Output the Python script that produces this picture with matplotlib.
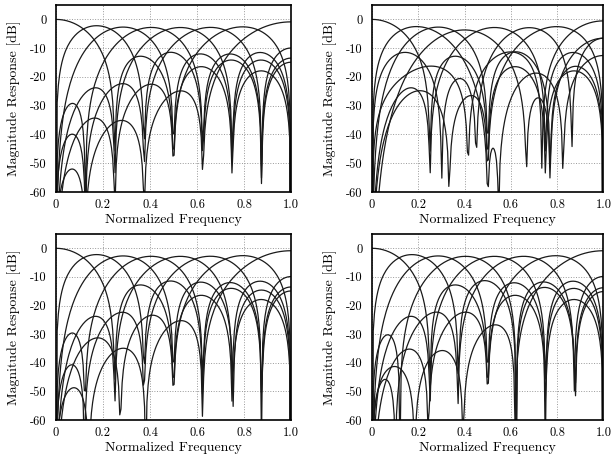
import numpy as np
import matplotlib.pyplot as plt

plt.rcParams['font.family'] = 'serif'
plt.rcParams['font.serif'] = ['cmr10']
plt.rcParams['axes.unicode_minus'] = False

# 8-point DCT-II (orthonormal rows)
dct8 = np.array([
    [0.3536, 0.3536, 0.3536, 0.3536, 0.3536, 0.3536, 0.3536, 0.3536],
    [0.4904, 0.4157, 0.2778, 0.0975, -0.0975, -0.2778, -0.4157, -0.4904],
    [0.4619, 0.1913, -0.1913, -0.4619, -0.4619, -0.1913, 0.1913, 0.4619],
    [0.4157, -0.0975, -0.4904, -0.2778, 0.2778, 0.4904, 0.0975, -0.4157],
    [0.3536, -0.3536, -0.3536, 0.3536, 0.3536, -0.3536, -0.3536, 0.3536],
    [0.2778, -0.4904, 0.0975, 0.4157, -0.4157, -0.0975, 0.4904, -0.2778],
    [0.1913, -0.4619, 0.4619, -0.1913, -0.1913, 0.4619, -0.4619, 0.1913],
    [0.0975, -0.2778, 0.4157, -0.4904, 0.4904, -0.4157, 0.2778, -0.0975],
])

# coarse approximation (top right)
approx_a = np.array([
    [1, 1, 1, 1, 1, 1, 1, 1],
    [2, 2, 3, 1, -1, -3, -2, -2],
    [2, 1, -1, -2, -2, -1, 1, 2],
    [2, -1, -2, -3, 3, 2, 1, -2],
    [1, -1, -1, 1, 1, -1, -1, 1],
    [3, -2, 1, 2, -2, -1, 2, -3],
    [1, -2, 2, -1, -1, 2, -2, 1],
    [1, -3, 2, -2, 2, -2, 3, -1],
])

# integer transform (bottom left)
approx_b = np.array([
    [64, 64, 64, 64, 64, 64, 64, 64],
    [89, 75, 50, 18, -18, -50, -75, -89],
    [83, 36, -36, -83, -83, -36, 36, 83],
    [75, -18, -89, -50, 50, 89, 18, -75],
    [64, -64, -64, 64, 64, -64, -64, 64],
    [50, -89, 18, 75, -75, -18, 89, -50],
    [36, -83, 83, -36, -36, 83, -83, 36],
    [18, -50, 75, -89, 89, -75, 50, -18],
])

# integer transform (bottom right)
approx_c = np.array([
    [1, 1, 1, 1, 1, 1, 1, 1],
    [24, 20, 13, 5, -5, -13, -20, -24],
    [22, 9, -9, -22, -22, -9, 9, 22],
    [20, -5, -24, -13, 13, 24, 5, -20],
    [1, -1, -1, 1, 1, -1, -1, 1],
    [13, -24, 5, 20, -20, -5, 24, -13],
    [9, -22, 22, -9, -9, 22, -22, 9],
    [5, -13, 20, -24, 24, -20, 13, -5],
])

transforms = [dct8, approx_a, approx_b, approx_c]
freq = np.linspace(0, 1, 200)
xticks = [0, 0.2, 0.4, 0.6, 0.8, 1.0]
xticklabels = ['0', '0.2', '0.4', '0.6', '0.8', '1.0']
yticks = [-60, -50, -40, -30, -20, -10, 0]

n = np.arange(8)
E = np.exp(-1j * np.pi * np.outer(n, freq))

fig = plt.figure(figsize=(6.12, 4.57), dpi=100)
boxes = [
    [0.0915, 0.580, 0.384, 0.409],
    [0.608, 0.580, 0.378, 0.409],
    [0.0915, 0.081, 0.384, 0.407],
    [0.608, 0.081, 0.378, 0.407],
]

for T, box in zip(transforms, boxes):
    ax = fig.add_axes(box)
    T = np.asarray(T, dtype=float)
    for row in T:
        h = row / np.linalg.norm(row)
        H = np.abs(h @ E) / np.sqrt(8)
        ax.plot(freq, 20 * np.log10(np.maximum(H, 1e-9)), color='#1a1a1a', lw=0.9)
    ax.set_xlim(0, 1)
    ax.set_ylim(-60, 5)
    ax.set_xticks(xticks)
    ax.set_xticklabels(xticklabels)
    ax.set_yticks(yticks)
    ax.grid(True, linestyle=':', color='#999999', lw=0.7)
    ax.tick_params(length=0, labelsize=9)
    ax.tick_params(axis='y', pad=7)
    ax.tick_params(axis='x', pad=5)
    for s in ax.spines.values():
        s.set_linewidth(1.2)
    ax.set_xlabel('Normalized Frequency', fontsize=10, labelpad=2)
    ax.set_ylabel('Magnitude Response [dB]', fontsize=10, labelpad=6)

fig.savefig('out.png', dpi=100)
